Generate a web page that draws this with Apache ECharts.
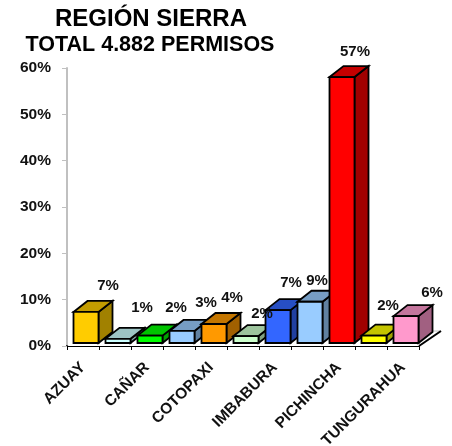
<!DOCTYPE html>
<html><head><meta charset="utf-8">
<style>html,body{margin:0;padding:0;background:#fff}#c{width:452px;height:446px}</style>
<script src="https://cdn.jsdelivr.net/npm/echarts@6/dist/echarts.min.js"></script>
</head><body><div id="c"></div>
<script>
// Only every second category name is printed in the reference; the others stay blank.
const categories = ['AZUAY','','CAÑAR','','COTOPAXI','','IMBABURA','','PICHINCHA','','TUNGURAHUA'];
const values = [6.7,0.9,1.6,2.6,4.1,1.5,7.1,8.9,57.4,1.6,5.8];
const yTicks = [0,10,20,30,40,50,60];
const barColors = ['#FFCC00','#CCFFFF','#00FF00','#99CCFF','#FF9900','#CCFFCC','#3366FF','#99CCFF','#FF0000','#FFFF00','#FF99CC'];
const labelShift = [[22,-26],[24,-31],[26,-28],[24,-28],[18,-26],[16,-22],[13,-27],[7,-21],[13,-25],[14,-30],[26,-23]];
const DX = 14, DY = 11, BAR_W = 25, LIFT = 3, SHIFT = 3;

function shade(hex, f){
  const n = parseInt(hex.slice(1),16);
  return 'rgb(' + [(n>>16)&255,(n>>8)&255,n&255].map(v=>Math.round(v*f)).join(',') + ')';
}
const chart = echarts.init(document.getElementById('c'), null, {renderer:'canvas'});
const FONT = '"Liberation Sans", Arial, sans-serif';
chart.setOption({
  animation:false,
  backgroundColor:'#fff',
  title:[
    {text:'REGIÓN SIERRA',left:146,top:2,textAlign:'center',textStyle:{fontFamily:FONT,fontWeight:'bold',fontSize:24,color:'#000'}},
    {text:'TOTAL 4.882 PERMISOS',left:145,top:29,textAlign:'center',textStyle:{fontFamily:FONT,fontWeight:'bold',fontSize:21.5,color:'#000'}}
  ],
  grid:{left:67,top:68,width:352,height:278,containLabel:false,outerBoundsMode:'none'},
  xAxis:{type:'category',data:categories,
    axisLine:{show:true,lineStyle:{color:'#000',width:2}},
    axisTick:{show:true,interval:0,length:4,alignWithLabel:false,lineStyle:{color:'#000',width:1}},
    axisLabel:{interval:1,rotate:45,margin:19,fontFamily:FONT,fontWeight:'bold',fontSize:15.5,color:'#111'},
    splitLine:{show:false}},
  yAxis:{type:'value',min:yTicks[0],max:yTicks[yTicks.length-1],interval:10,
    axisLine:{show:true,lineStyle:{color:'#C0C0C0',width:2}},
    axisTick:{show:true,length:5,lineStyle:{color:'#C0C0C0',width:1}},
    axisLabel:{margin:16,padding:[4,0,0,0],formatter:'{value}%',fontFamily:FONT,fontWeight:'bold',fontSize:15.5,color:'#111'},
    splitLine:{show:false}},
  series:[
    {type:'custom',coordinateSystem:'cartesian2d',silent:true,z:1,clip:false,data:[[0,0]],
     renderItem(params){
       const s = params.coordSys, x0 = s.x, x1 = s.x+s.width, y = s.y+s.height;
       return {type:'group',children:[
         {type:'polygon',shape:{points:[[x0,y],[x1,y],[x1+22,y-15],[x0+22,y-15]]},style:{fill:'#fff',stroke:null}},
         {type:'line',shape:{x1:x1+22,y1:y-15,x2:x0+340,y2:y-15},style:{stroke:'#C0C0C0',lineWidth:1}},
         {type:'line',shape:{x1:x1,y1:y,x2:x1+22,y2:y-15},style:{stroke:'#000',lineWidth:2}}
       ]};
     }},
    {type:'custom',coordinateSystem:'cartesian2d',silent:true,z:3,clip:false,
     data:values.map((v,i)=>[i,v]),
     renderItem(params,api){
       const i = params.dataIndex;
       const base = api.coord([api.value(0),0]), top = api.coord([api.value(0),api.value(1)]);
       const l = base[0]+SHIFT-BAR_W/2, r = l+BAR_W, b = base[1]-LIFT, t = top[1]-LIFT;
       const c = barColors[i], line = {stroke:'#000',lineWidth:1.8,lineJoin:'miter'};
       const sh = labelShift[i];
       return {type:'group',children:[
         {type:'polygon',shape:{points:[[r,b],[r+DX,b-DY],[r+DX,t-DY],[r,t]]},style:{fill:shade(c,0.63),...line}},
         {type:'polygon',shape:{points:[[l,t],[l+DX,t-DY],[r+DX,t-DY],[r,t]]},style:{fill:shade(c,0.77),...line}},
         {type:'rect',shape:{x:l,y:t,width:BAR_W,height:b-t},style:{fill:c,...line}},
         {type:'text',z2:100,x:(l+r)/2+sh[0],y:t+sh[1],style:{text:Math.round(api.value(1))+'%',align:'center',verticalAlign:'middle',fontFamily:FONT,fontWeight:'bold',fontSize:15,fill:'#111'}}
       ]};
     }}
  ]
});
</script></body></html>
